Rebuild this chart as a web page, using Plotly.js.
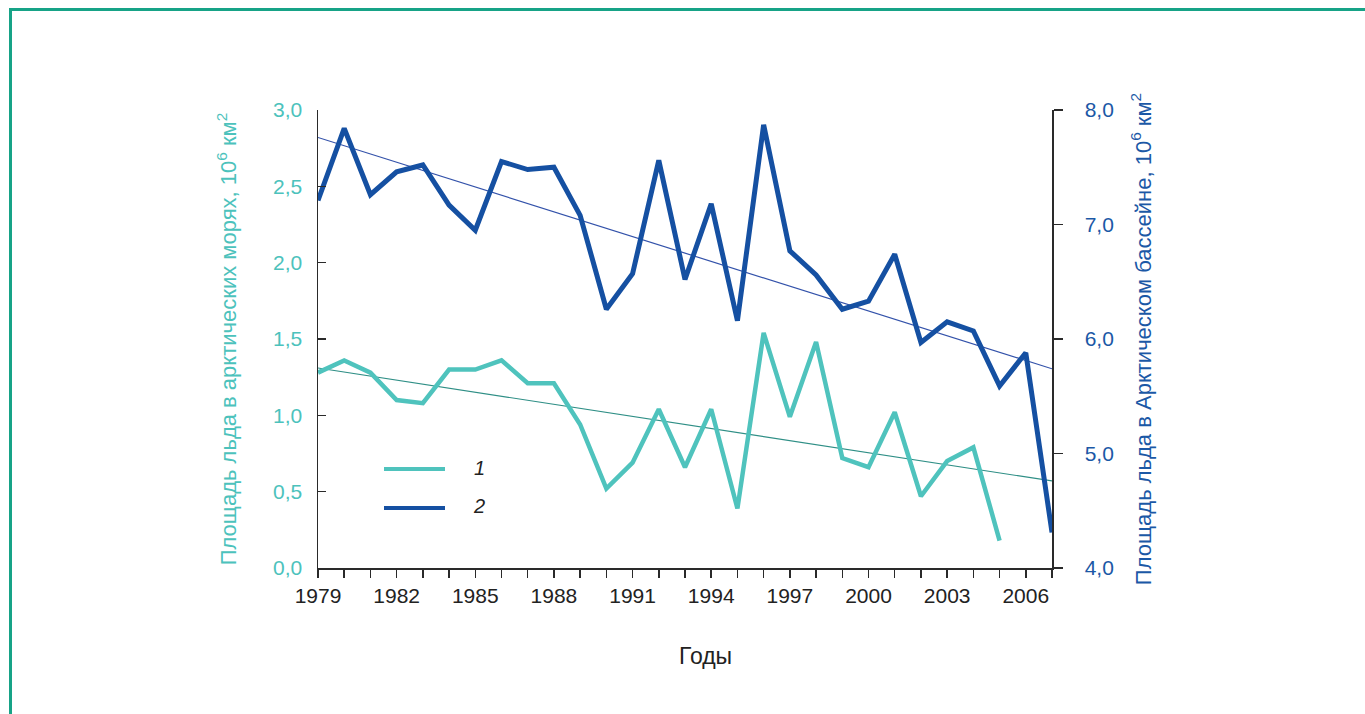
<!DOCTYPE html>
<html>
<head>
<meta charset="utf-8">
<script src="https://cdn.plot.ly/plotly-3.0.1.min.js"></script>
<style>
  html, body { margin: 0; padding: 0; background: #ffffff; }
  #frame { position: absolute; left: 9px; top: 8px; width: 1400px; height: 800px;
           border-left: 3px solid #17a387; border-top: 3px solid #17a387; }
  #chart { position: absolute; left: 0; top: 0; width: 1365px; height: 714px; }
</style>
</head>
<body>
<div id="frame"></div>
<div id="chart"></div>
<script>
// Years
const years = [1979,1980,1981,1982,1983,1984,1985,1986,1987,1988,1989,1990,1991,1992,1993,1994,1995,1996,1997,1998,1999,2000,2001,2002,2003,2004,2005,2006,2007];
// Series 1: ice area in Arctic seas, 10^6 km^2 (left axis), 1979-2005
const years1 = years.slice(0, 27);
const seas = [1.28,1.36,1.28,1.10,1.08,1.30,1.30,1.36,1.21,1.21,0.94,0.52,0.69,1.04,0.66,1.04,0.39,1.54,0.99,1.48,0.72,0.66,1.02,0.47,0.70,0.79,0.18];
// Series 2: ice area in Arctic basin, 10^6 km^2 (right axis), 1979-2007
const basin = [7.21,7.84,7.26,7.46,7.52,7.17,6.95,7.55,7.48,7.50,7.08,6.26,6.57,7.56,6.52,7.18,6.16,7.87,6.77,6.56,6.26,6.33,6.74,5.97,6.15,6.07,5.59,5.88,4.31];
// Trend lines (end values)
const trendYears = [1979, 2007];
const trendSeas = [1.31, 0.57];
const trendBasin = [7.76, 5.74];
// Tick labels
const xTickVals = [1979,1982,1985,1988,1991,1994,1997,2000,2003,2006];
const xTickText = xTickVals.map(String);
const legendLabels = ['1', '2'];
const xTitle = 'Годы';

const teal = '#4fc3bd';
const blue = '#1550a2';
const tealText = '#4cc2bc';
const blueText = '#1b58a6';
const axisCol = '#2a2a2a';
const font = 'Liberation Sans, Arial, Helvetica, sans-serif';

const traces = [
  { x: trendYears, y: trendSeas, mode: 'lines', yaxis: 'y',
    line: { color: '#2f8f86', width: 1.2 }, hoverinfo: 'skip', showlegend: false },
  { x: trendYears, y: trendBasin, mode: 'lines', yaxis: 'y2',
    line: { color: '#3352aa', width: 1.2 }, hoverinfo: 'skip', showlegend: false },
  { x: years1, y: seas, mode: 'lines', yaxis: 'y', name: legendLabels[0],
    line: { color: teal, width: 4.5 }, showlegend: false },
  { x: years, y: basin, mode: 'lines', yaxis: 'y2', name: legendLabels[1],
    line: { color: blue, width: 5 }, showlegend: false }
];

const L = 318, R = 1052, T = 110, B = 568;
const px = v => (v - L) / (R - L);
const py = v => (B - v) / (B - T);

const layout = {
  width: 1365, height: 714,
  margin: { l: L, r: 1365 - R, t: T, b: 714 - B, pad: 0 },
  paper_bgcolor: 'rgba(0,0,0,0)', plot_bgcolor: 'rgba(0,0,0,0)',
  separators: ', ',
  font: { family: font, size: 21, color: '#222' },
  showlegend: false,
  xaxis: {
    range: [1979, 2007], showgrid: false, zeroline: false,
    showline: true, linecolor: axisCol, linewidth: 1.5,
    tickmode: 'array', tickvals: xTickVals, ticktext: xTickText,
    ticks: 'outside', ticklen: 8, tickwidth: 1.5, tickcolor: axisCol,
    ticklabelstandoff: 0,
    minor: { dtick: 1, tick0: 1979, ticks: 'outside', ticklen: 8, tickwidth: 1.5, tickcolor: axisCol, showgrid: false },
    tickfont: { size: 21, color: '#222' }
  },
  yaxis: {
    range: [0, 3], dtick: 0.5, tick0: 0, tickformat: '.1f',
    showgrid: false, zeroline: false,
    showline: true, linecolor: axisCol, linewidth: 1.5,
    ticks: 'inside', ticklen: 8, tickwidth: 1.5, tickcolor: axisCol,
    ticklabelstandoff: 10,
    tickfont: { size: 21, color: tealText },
    title: { text: 'Площадь льда в арктических морях, 10<sup>6</sup> км<sup>2</sup>',
             font: { size: 22, color: tealText }, standoff: 30 }
  },
  yaxis2: {
    overlaying: 'y', side: 'right',
    range: [4, 8], dtick: 1, tick0: 4, tickformat: '.1f',
    showgrid: false, zeroline: false,
    showline: true, linecolor: axisCol, linewidth: 1.5,
    ticks: 'outside', ticklen: 9, tickwidth: 1.5, tickcolor: axisCol,
    ticklabelstandoff: 18,
    tickfont: { size: 21, color: blueText },
    title: { text: 'Площадь льда в Арктическом бассейне, 10<sup>6</sup> км<sup>2</sup>',
             font: { size: 22, color: blueText }, standoff: 22 }
  },
  shapes: [
    { type: 'line', xref: 'paper', yref: 'paper', x0: px(384), x1: px(445), y0: py(469), y1: py(469),
      line: { color: teal, width: 4 } },
    { type: 'line', xref: 'paper', yref: 'paper', x0: px(384), x1: px(445), y0: py(508), y1: py(508),
      line: { color: blue, width: 4 } }
  ],
  annotations: [
    { xref: 'paper', yref: 'paper', x: px(479), y: py(468), text: '<i>' + legendLabels[0] + '</i>',
      showarrow: false, font: { size: 20, color: '#222' }, xanchor: 'center', yanchor: 'middle' },
    { xref: 'paper', yref: 'paper', x: px(479), y: py(506), text: '<i>' + legendLabels[1] + '</i>',
      showarrow: false, font: { size: 20, color: '#222' }, xanchor: 'center', yanchor: 'middle' },
    { xref: 'paper', yref: 'paper', x: px(705), y: py(656), text: xTitle,
      showarrow: false, font: { size: 23, color: '#222' }, xanchor: 'center', yanchor: 'middle' }
  ]
};

Plotly.newPlot('chart', traces, layout, { staticPlot: true, displayModeBar: false });
</script>
</body>
</html>
